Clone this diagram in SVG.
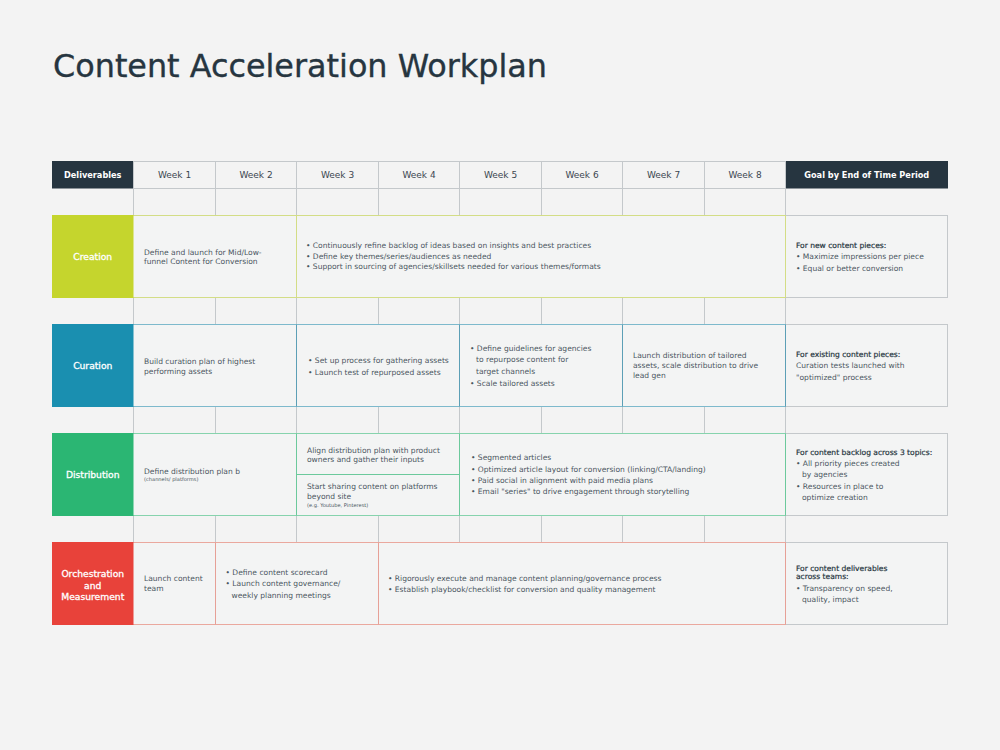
<svg xmlns="http://www.w3.org/2000/svg" width="1000" height="750" viewBox="0 0 1000 750">
<style>
text{font-family:"DejaVu Sans","Liberation Sans",sans-serif}
.title{font-size:31.7px;fill:#263540;stroke:#263540;stroke-width:0.35}
.hd{font-size:9px;fill:#3b4650;text-anchor:middle}
.hdw{font-size:8.2px;fill:#ffffff;text-anchor:middle;font-weight:bold}
.lbl{font-size:9.2px;fill:#ffffff;text-anchor:middle;stroke:#ffffff;stroke-width:0.3}
.t{font-size:7.55px;fill:#4a5560}
.g{font-size:7.55px;fill:#263540;stroke:#263540;stroke-width:0.2}
.s{font-size:5.1px;fill:#4a5560}
.grid{stroke:#c4c8cb;stroke-width:1;fill:none}
.goal{fill:#f3f4f4;stroke:#c4c8cb;stroke-width:1}
.cell{fill:#f3f4f4}
</style>
<rect x="0" y="0" width="1000" height="750" fill="#f3f3f3"/>
<g id="title"><text class="title" x="53" y="77" textLength="494" lengthAdjust="spacingAndGlyphs">Content Acceleration Workplan</text></g>

<g id="header">
<rect x="52" y="161" width="81.5" height="27.5" fill="#263540"/>
<rect x="785.5" y="161" width="162.5" height="27.5" fill="#263540"/>
<rect class="grid" x="133.5" y="161.5" width="652" height="27"/>
<path class="grid" d="M215.5 161.5V188.5M296.5 161.5V188.5M378.5 161.5V188.5M459.5 161.5V188.5M541.5 161.5V188.5M622.5 161.5V188.5M704.5 161.5V188.5"/>
<text class="hdw" x="92.75" y="178">Deliverables</text>
<text class="hd" x="174.5" y="178">Week 1</text>
<text class="hd" x="256" y="178">Week 2</text>
<text class="hd" x="337.5" y="178">Week 3</text>
<text class="hd" x="419" y="178">Week 4</text>
<text class="hd" x="500.5" y="178">Week 5</text>
<text class="hd" x="582" y="178">Week 6</text>
<text class="hd" x="663.5" y="178">Week 7</text>
<text class="hd" x="745" y="178">Week 8</text>
<text class="hdw" x="866.75" y="178">Goal by End of Time Period</text>
</g>

<g id="connectors">
<path class="grid" d="M133.5 188.5V215M215.5 188.5V215M296.5 188.5V215M378.5 188.5V215M459.5 188.5V215M541.5 188.5V215M622.5 188.5V215M704.5 188.5V215M785.5 188.5V215"/>
<path class="grid" d="M133.5 298V324M215.5 298V324M296.5 298V324M378.5 298V324M459.5 298V324M541.5 298V324M622.5 298V324M704.5 298V324M785.5 298V324"/>
<path class="grid" d="M133.5 407V433M215.5 407V433M296.5 407V433M378.5 407V433M459.5 407V433M541.5 407V433M622.5 407V433M704.5 407V433M785.5 407V433"/>
<path class="grid" d="M133.5 516V542M215.5 516V542M296.5 516V542M378.5 516V542M459.5 516V542M541.5 516V542M622.5 516V542M704.5 516V542M785.5 516V542"/>
</g>

<g id="creation">
<rect class="goal" x="785.5" y="215.5" width="162" height="82"/>
<rect class="cell" x="52.5" y="215.5" width="733" height="82" stroke="#d3dd86" stroke-width="1"/>
<path d="M296.5 215.5V297.5M785.5 215.5V297.5" stroke="#d3dd86" stroke-width="1"/>
<rect x="52" y="215" width="81.5" height="83" fill="#c5d52d"/>
<text class="lbl" x="92.75" y="259.5">Creation</text>
<text class="t" x="144" y="254.5">Define and launch for Mid/Low-</text>
<text class="t" x="144" y="264">funnel Content for Conversion</text>
<text class="t" x="306" y="248">• Continuously refine backlog of ideas based on insights and best practices</text>
<text class="t" x="306" y="258.5">• Define key themes/series/audiences as needed</text>
<text class="t" x="306" y="269">• Support in sourcing of agencies/skillsets needed for various themes/formats</text>
<text class="g" x="796" y="248">For new content pieces:</text>
<text class="t" x="796" y="259">• Maximize impressions per piece</text>
<text class="t" x="796" y="270.5">• Equal or better conversion</text>
</g>

<g id="curation">
<rect class="goal" x="785.5" y="324.5" width="162" height="82"/>
<rect class="cell" x="52.5" y="324.5" width="733" height="82" stroke="#7db9cc" stroke-width="1"/>
<path d="M296.5 324.5V406.5M459.5 324.5V406.5M622.5 324.5V406.5M785.5 324.5V406.5" stroke="#5c9fb6" stroke-width="1"/>
<rect x="52" y="324" width="81.5" height="83" fill="#1a8fb0"/>
<text class="lbl" x="92.75" y="369">Curation</text>
<text class="t" x="144" y="364">Build curation plan of highest</text>
<text class="t" x="144" y="373.5">performing assets</text>
<text class="t" x="308" y="363">• Set up process for gathering assets</text>
<text class="t" x="308" y="374.5">• Launch test of repurposed assets</text>
<text class="t" x="470" y="350.5">• Define guidelines for agencies</text>
<text class="t" x="476" y="362.3">to repurpose content for</text>
<text class="t" x="476" y="374">target channels</text>
<text class="t" x="470" y="385.6">• Scale tailored assets</text>
<text class="t" x="633" y="358.3">Launch distribution of tailored</text>
<text class="t" x="633" y="368.3">assets, scale distribution to drive</text>
<text class="t" x="633" y="378">lead gen</text>
<text class="g" x="796" y="356.6">For existing content pieces:</text>
<text class="t" x="796" y="368">Curation tests launched with</text>
<text class="t" x="796" y="379.6">"optimized" process</text>
</g>

<g id="distribution">
<rect class="goal" x="785.5" y="433.5" width="162" height="82"/>
<rect class="cell" x="52.5" y="433.5" width="733" height="82" stroke="#86d3ad" stroke-width="1"/>
<path d="M296.5 433.5V515.5M459.5 433.5V515.5M785.5 433.5V515.5M296.5 474.5H459.5" stroke="#6cc99c" stroke-width="1"/>
<rect x="52" y="433" width="81.5" height="83" fill="#2bb673"/>
<text class="lbl" x="92.75" y="478">Distribution</text>
<text class="t" x="144" y="473.6">Define distribution plan b</text>
<text class="s" x="144" y="481">(channels/ platforms)</text>
<text class="t" x="307" y="453">Align distribution plan with product</text>
<text class="t" x="307" y="462.3">owners and gather their inputs</text>
<text class="t" x="307" y="489.3">Start sharing content on platforms</text>
<text class="t" x="307" y="498.6">beyond site</text>
<text class="s" x="307" y="506.7">(e.g. Youtube, Pinterest)</text>
<text class="t" x="471" y="459.6">• Segmented articles</text>
<text class="t" x="471" y="471.5">• Optimized article layout for conversion (linking/CTA/landing)</text>
<text class="t" x="471" y="482.6">• Paid social in alignment with paid media plans</text>
<text class="t" x="471" y="494">• Email "series" to drive engagement through storytelling</text>
<text class="g" x="796" y="454.6">For content backlog across 3 topics:</text>
<text class="t" x="796" y="465.5">• All priority pieces created</text>
<text class="t" x="802" y="477.3">by agencies</text>
<text class="t" x="796" y="488.6">• Resources in place to</text>
<text class="t" x="802" y="500.3">optimize creation</text>
</g>

<g id="orchestration">
<rect class="goal" x="785.5" y="542.5" width="162" height="82"/>
<rect class="cell" x="52.5" y="542.5" width="733" height="82" stroke="#eaa89e" stroke-width="1"/>
<path d="M215.5 542.5V624.5M378.5 542.5V624.5M785.5 542.5V624.5" stroke="#e6a097" stroke-width="1"/>
<rect x="52" y="542" width="81.5" height="83" fill="#e8423a"/>
<text class="lbl" x="92.75" y="577">Orchestration</text>
<text class="lbl" x="92.75" y="588.5">and</text>
<text class="lbl" x="92.75" y="600">Measurement</text>
<text class="t" x="144" y="580.5">Launch content</text>
<text class="t" x="144" y="590.5">team</text>
<text class="t" x="225.5" y="574.5">• Define content scorecard</text>
<text class="t" x="225.5" y="586">• Launch content governance/</text>
<text class="t" x="231.5" y="597.5">weekly planning meetings</text>
<text class="t" x="388" y="580.5">• Rigorously execute and manage content planning/governance process</text>
<text class="t" x="388" y="591.5">• Establish playbook/checklist for conversion and quality management</text>
<text class="g" x="796" y="570.5">For content deliverables</text>
<text class="g" x="796" y="579">across teams:</text>
<text class="t" x="796" y="590.5">• Transparency on speed,</text>
<text class="t" x="802" y="601.5">quality, impact</text>
</g>
</svg>
